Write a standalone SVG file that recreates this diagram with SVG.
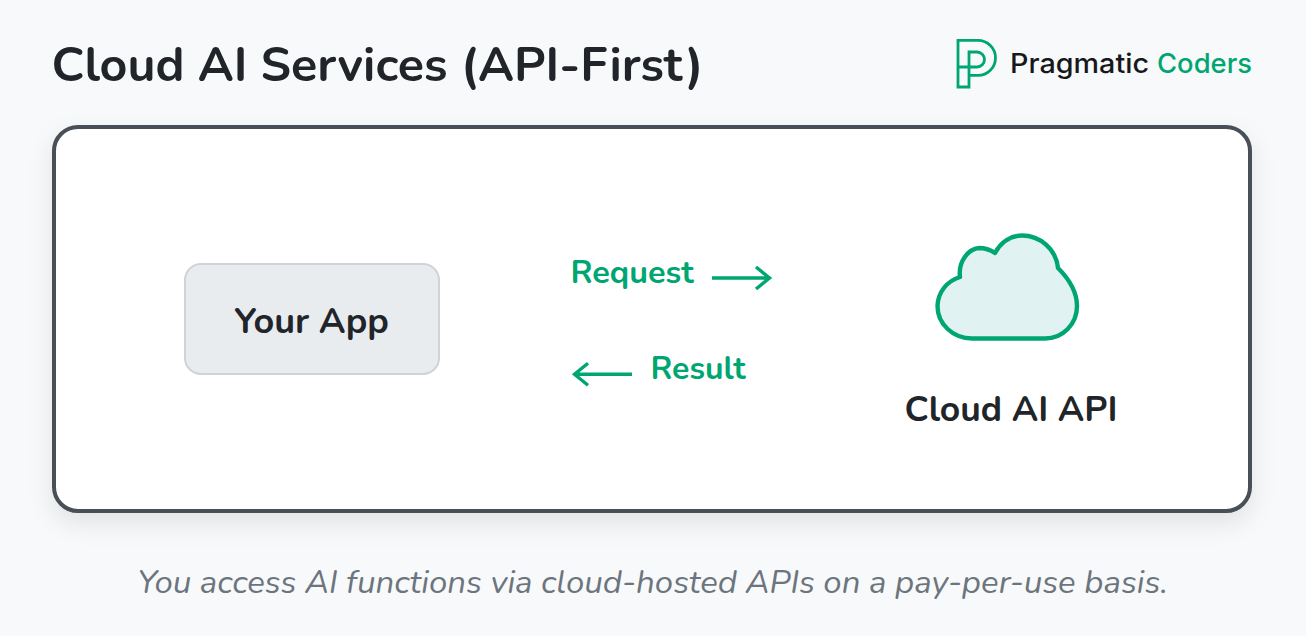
<svg xmlns="http://www.w3.org/2000/svg" width="1306" height="636" viewBox="0 0 1306 636">
<style>
text{font-family:"Nunito","Noto Sans","Liberation Sans",sans-serif}
.t{fill:#212529;font-weight:700}
.g{fill:#00a672;font-weight:700}
.c{fill:none;stroke:#00a672;stroke-width:3.400;stroke-linejoin:miter}
</style>
<defs>
<filter id="s" x="-10%" y="-15%" width="120%" height="135%"><feDropShadow dx="0" dy="10" stdDeviation="12" flood-color="#000" flood-opacity=".09"/></filter>
</defs>
<rect width="1306" height="636" fill="#f8f9fa"/>
<text id="title" class="t" x="51.500" y="81" font-size="48.400">Cloud AI Services (API-First)</text>
<g id="logo">
<path d="M958 67V40.400H978A17.500 17.500 0 0 1 978 75.400H969V87H958V67H977A7.500 7.500 0 0 0 977 52H969V75.400" fill="none" stroke="#00a672" stroke-width="2.800"/>
<text x="1010" y="73" font-size="27" font-weight="500" style="font-family:Inter,'Noto Sans',sans-serif" fill="#16181c" textLength="139" lengthAdjust="spacingAndGlyphs">Pragmatic</text>
<text x="1157" y="73" font-size="27" font-weight="500" style="font-family:Inter,'Noto Sans',sans-serif" fill="#00a672" textLength="95" lengthAdjust="spacingAndGlyphs">Coders</text>
</g>
<rect id="panel" x="54" y="127" width="1196" height="384" rx="24" fill="#fff" stroke="#495057" stroke-width="4" filter="url(#s)"/>
<g id="your-app">
<rect x="185" y="264" width="254" height="110" rx="16" fill="#e9ecef" stroke="#ced4da" stroke-width="2"/>
<text class="t" x="311.500" y="333" font-size="36" text-anchor="middle" font-weight="600">Your App</text>
</g>
<g id="cloud-ai-api">
<path d="M972 338.500H1045C1063 338.500 1077 324 1077 306C1077 291 1069 279 1058 268C1056 249 1040 235.500 1022 235.500C1011 235.500 1001 242 995 253C989 249 983 248 979 248C968 249 958 262 960 277C947 281 938 292 937.500 306C937.500 324 953 338.500 972 338.500Z" fill="#e0f2f1" stroke="#00a672" stroke-width="4.400" stroke-linejoin="round"/>
<text class="t" x="1011" y="421" font-size="35.500" text-anchor="middle">Cloud AI API</text>
</g>
<g id="connectors">
<path class="c" d="M712 278H768M756 267L769.500 278L756 289"/>
<path class="c" d="M632 374.300H575M588 363.300L574.500 374.300L588 385.300"/>
</g>
<text class="g" x="570.500" y="283" font-size="32.400">Request</text>
<text class="g" x="650.500" y="379" font-size="32">Result</text>
<text id="caption" x="652.500" y="592.500" font-size="33" font-style="italic" fill="#6c757d" text-anchor="middle">You access AI functions via cloud-hosted APIs on a pay-per-use basis.</text>
</svg>
